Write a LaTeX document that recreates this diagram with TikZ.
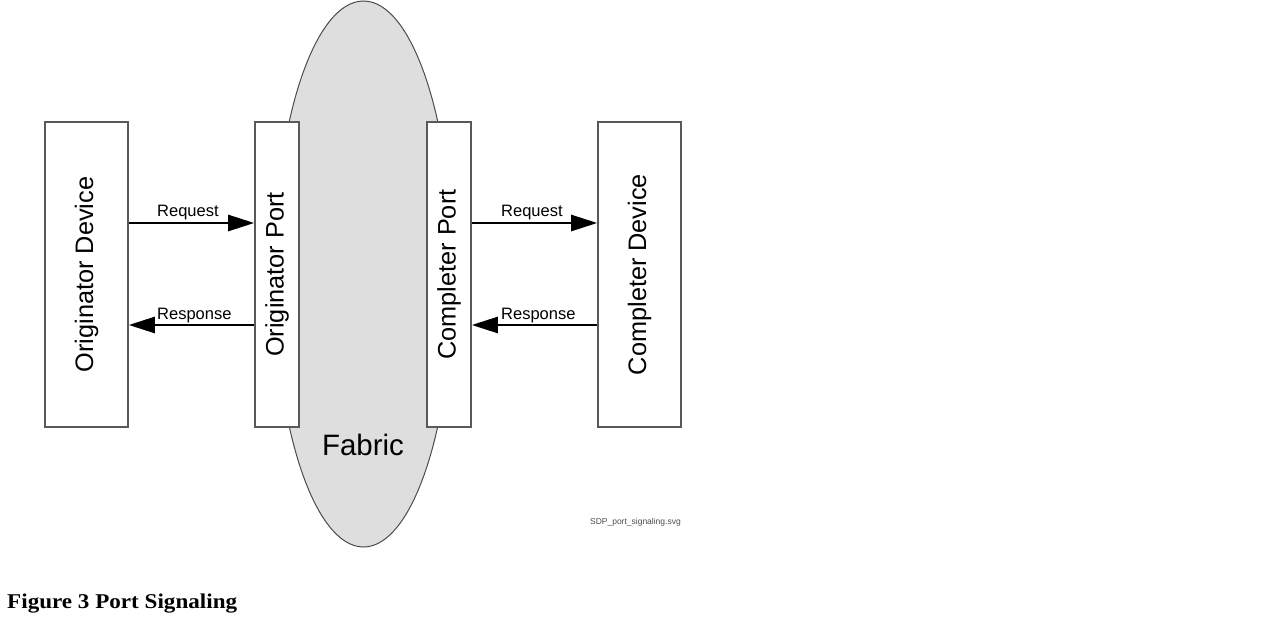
\documentclass[tikz,border=0pt]{standalone}
\usepackage{fontspec}
\setmainfont{Liberation Sans}
\newfontfamily\capfont{Liberation Serif}
\usetikzlibrary{arrows.meta,shapes.geometric}
\begin{document}
\begin{tikzpicture}[x=1pt,y=-1pt,
  boxst/.style={draw=black!65, line width=1.6pt, fill=white, inner sep=0pt},
  boxlabel/.style={rotate=90, font=\fontsize{25.3}{28}\selectfont, inner sep=0pt},
  arr/.style={line width=2.6pt, -{Triangle[length=26pt,width=16pt]}},
  lab/.style={font=\fontsize{16.5}{18}\selectfont, inner sep=0pt, anchor=base west}]
\useasboundingbox (0,0) rectangle (1288,618);
% fabric
\node[ellipse, draw=black!70, line width=1pt, fill=black!13, minimum width=179pt, minimum height=546pt, inner sep=0pt] (fab) at (363.5,274) {};
\node[font=\fontsize{29.5}{32}\selectfont, inner sep=0pt] (fabl) at (363,445) {Fabric};
% boxes
\node[boxst, minimum width=83pt, minimum height=305pt] (od) at (86.5,274.5) {};
\node[boxst, minimum width=44pt, minimum height=305pt] (op) at (277,274.5) {};
\node[boxst, minimum width=44pt, minimum height=305pt] (cp) at (449,274.5) {};
\node[boxst, minimum width=83pt, minimum height=305pt] (cd) at (639.5,274.5) {};
\node[boxlabel] (odl) at (od.center) {Originator Device};
\node[boxlabel] (opl) at (op.center) {Originator Port};
\node[boxlabel] (cpl) at (cp.center) {Completer Port};
\node[boxlabel] (cdl) at (cd.center) {Completer Device};
% arrows
\coordinate (a1s) at (od.east |- 0,223);
\coordinate (a1e) at (op.west |- 0,223);
\coordinate (a2s) at (op.west |- 0,325);
\coordinate (a2e) at (od.east |- 0,325);
\coordinate (a3s) at (cp.east |- 0,223);
\coordinate (a3e) at (cd.west |- 0,223);
\coordinate (a4s) at (cd.west |- 0,325);
\coordinate (a4e) at (cp.east |- 0,325);
\draw[arr] (a1s) -- (a1e);
\draw[arr] (a2s) -- (a2e);
\draw[arr] (a3s) -- (a3e);
\draw[arr] (a4s) -- (a4e);
\node[lab] (l1) at (157,216) {Request};
\node[lab] (l2) at (157,319) {Response};
\node[lab] (l3) at (501,216) {Request};
\node[lab] (l4) at (501,319) {Response};
% file name
\node[font=\fontsize{8.5}{9}\selectfont, text=black!70, inner sep=0pt, anchor=east] (fn) at (681,522) {SDP\_port\_signaling.svg};
% caption
\node[font=\capfont\bfseries\fontsize{21}{24}\selectfont, inner sep=0pt, anchor=base west, xscale=1.1] (cap) at (7,608) {Figure 3 Port Signaling};
\end{tikzpicture}
\end{document}
